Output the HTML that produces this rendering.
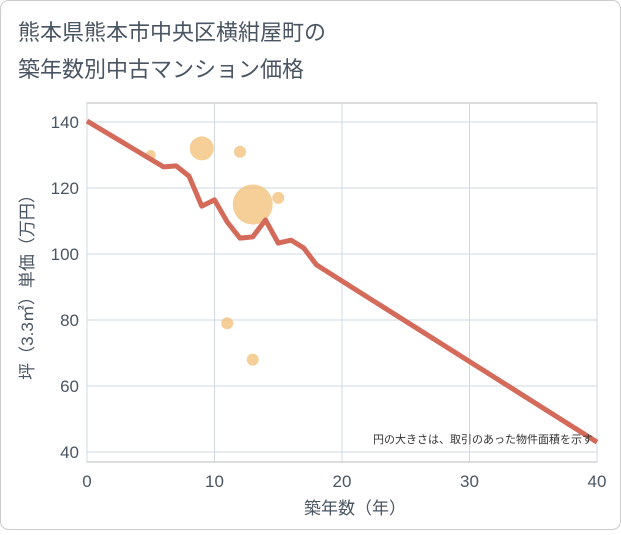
<!DOCTYPE html>
<html><head><meta charset="utf-8"><style>
body{margin:0;background:#fff;}
.wrap{width:621px;height:530px;position:relative;font-family:"Liberation Sans","Noto Sans CJK JP",sans-serif;}
</style></head><body>
<div class="wrap">
<svg id="c" width="621" height="530" xmlns="http://www.w3.org/2000/svg">
<rect x="0.5" y="0.5" width="620" height="529" rx="8" fill="#fff" stroke="#ccc"/>
<text x="18" y="40" font-size="22" fill="#4a5563" font-family="Liberation Sans, Noto Sans CJK JP, sans-serif">熊本県熊本市中央区横紺屋町の</text>
<text x="18" y="77" font-size="22" fill="#4a5563" font-family="Liberation Sans, Noto Sans CJK JP, sans-serif">築年数別中古マンション価格</text>
<g id="grid"></g><g id="bubbles"></g><g id="lineg"></g><g id="axes"></g>
<text x="593" y="443" font-size="11" fill="#333" text-anchor="end" font-family="Liberation Sans, Noto Sans CJK JP, sans-serif">円の大きさは、取引のあった物件面積を示す</text>
<text x="355" y="514" font-size="17" fill="#4a5563" text-anchor="middle" font-family="Liberation Sans, Noto Sans CJK JP, sans-serif">築年数（年）</text>
<text transform="translate(33,283) rotate(-90)" font-size="17" fill="#4a5563" text-anchor="middle" font-family="Liberation Sans, Noto Sans CJK JP, sans-serif">坪（3.3㎡）単価（万円）</text>
</svg>
</div>
<script>
const xTicks=[0,10,20,30,40];
const yTicks=[40,60,80,100,120,140];
const lineYears=[0,6,7,8,9,10,11,12,13,14,15,16,17,18,40];
const linePrices=[140.3,126.4,126.7,123.6,114.5,116.4,109.7,104.8,105.2,110.3,103.3,104.2,101.8,96.7,43];
const bubbleYears=[5,9,12,13,15,11,13];
const bubblePrices=[130,132,131,115,117,79,68];
const bubbleSizes=[5,12,6,20,6,6,6];
const L=87,R=597,T=103,B=462;
const xs=v=>L+(v-0)/40*(R-L);
const ys=v=>452-(v-40)/100*330;
const NS="http://www.w3.org/2000/svg";
function mk(t,a,p){const e=document.createElementNS(NS,t);for(const k in a)e.setAttribute(k,a[k]);p.appendChild(e);return e;}
const grid=document.getElementById('grid'),axes=document.getElementById('axes');
const bg=mk('rect',{x:L,y:T,width:R-L,height:B-T,fill:'#fff',stroke:'#bbb'},grid);


xTicks.forEach(v=>{
 const l=mk('line',{x1:xs(v),x2:xs(v),y1:T,y2:B,stroke:'#cfd8e0'},grid);
 
 
 const t=mk('text',{x:xs(v),y:B+25,'font-size':17,fill:'#4a5563','text-anchor':'middle','font-family':'Liberation Sans, sans-serif'},axes);
 t.textContent=v;
 
 
});
yTicks.forEach(v=>{
 const l=mk('line',{x1:L,x2:R,y1:ys(v),y2:ys(v),stroke:'#cfd8e0'},grid);
 
 
 const t=mk('text',{x:L-8,y:ys(v)+6,'font-size':17,fill:'#4a5563','text-anchor':'end','font-family':'Liberation Sans, sans-serif'},axes);
 t.textContent=v;
 
 
});
const bgG=document.getElementById('bubbles');
bubbleYears.forEach((y,i)=>{
 const c=mk('circle',{cx:xs(y),cy:ys(bubblePrices[i]),r:bubbleSizes[i],fill:'#f2c27e','fill-opacity':0.8},bgG);
 
 
});
const pts=lineYears.map((y,i)=>xs(y)+','+ys(linePrices[i])).join(' ');
const pl=mk('polyline',{points:pts,fill:'none',stroke:'#d46a5a','stroke-width':5,'stroke-linejoin':'round'},document.getElementById('lineg'));


</script>
</body></html>
